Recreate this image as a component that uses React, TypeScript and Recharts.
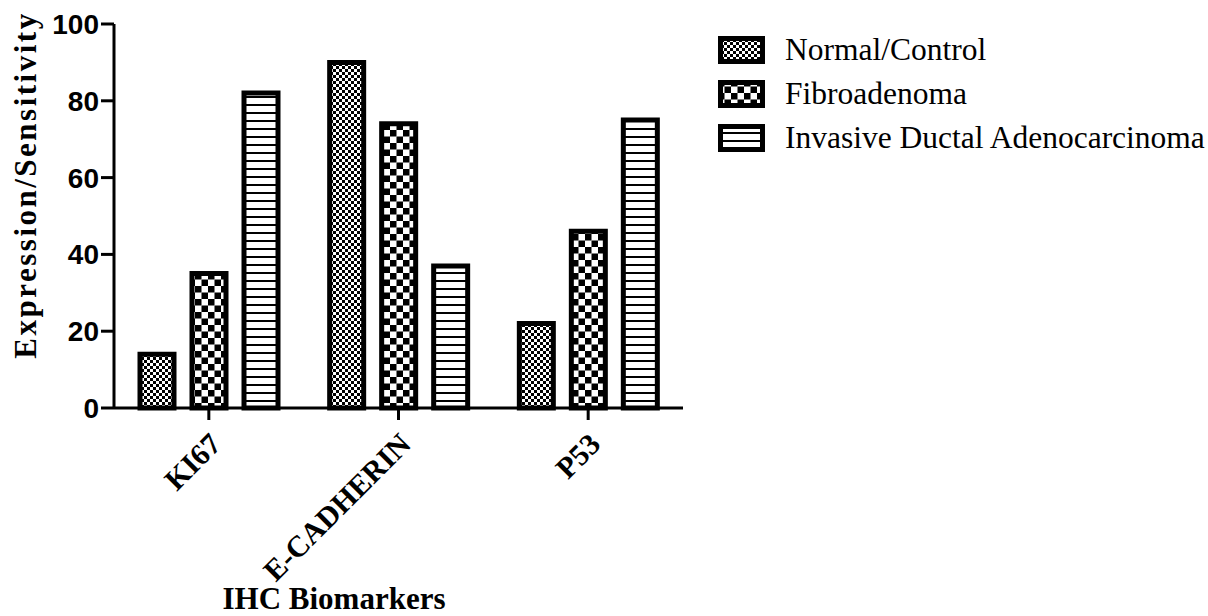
import { BarChart, Bar, XAxis, YAxis } from 'recharts';

const markers = ['KI67', 'E-CADHERIN', 'P53'];
const normalControl = [14, 90, 22];
const fibroadenoma = [35, 74, 46];
const invasiveDuctal = [82, 37, 75];
const yTicks = [0, 20, 40, 60, 80, 100];
const seriesNames = ['Normal/Control', 'Fibroadenoma', 'Invasive Ductal Adenocarcinoma'];
const seriesKeys = ['normal', 'fibro', 'idc'];
const patternIds = ['patNormal', 'patFibro', 'patIdc'];

const data = markers.map((name, i) => ({
    name,
    normal: normalControl[i],
    fibro: fibroadenoma[i],
    idc: invasiveDuctal[i],
}));

const serif = '"Liberation Serif", "Times New Roman", serif';
const sans = '"Liberation Sans", Arial, sans-serif';

function Patterns() {
    return (
        <defs>
            <pattern id="patNormal" patternUnits="userSpaceOnUse" width="6" height="6">
                <rect width="6" height="6" fill="#fff" />
                <rect x="0" y="0" width="3" height="3" fill="#000" />
                <rect x="3" y="3" width="3" height="3" fill="#000" />
            </pattern>
            <pattern id="patFibro" patternUnits="userSpaceOnUse" width="13" height="13">
                <rect width="13" height="13" fill="#fff" />
                <rect x="0" y="0" width="6.5" height="6.5" fill="#000" />
                <rect x="6.5" y="6.5" width="6.5" height="6.5" fill="#000" />
            </pattern>
            <pattern id="patIdc" patternUnits="userSpaceOnUse" width="8" height="8">
                <rect width="8" height="8" fill="#fff" />
                <rect x="0" y="0" width="8" height="2" fill="#000" />
            </pattern>
        </defs>
    );
}

const XTick = ({ x, y, payload }: any) => (
    <text
        x={x + 14}
        y={y + 24}
        transform={`rotate(-45, ${x + 14}, ${y + 24})`}
        textAnchor="end"
        style={{ fontFamily: serif, fontWeight: 'bold', fontSize: 30 }}
        fill="#000"
    >
        {payload.value}
    </text>
);

export default function App() {
    return (
        <div style={{ position: 'absolute', left: 0, top: 0, width: 1208, height: 616, background: '#fff' }}>
            <BarChart
                width={1208}
                height={616}
                data={data}
                margin={{ top: 24, right: 525, left: 0, bottom: 0 }}
                barSize={34}
                barGap={18}
            >
                <Patterns />
                <XAxis
                    dataKey="name"
                    interval={0}
                    height={208}
                    tickSize={12}
                    axisLine={{ stroke: '#000', strokeWidth: 3 }}
                    tickLine={{ stroke: '#000', strokeWidth: 3 }}
                    tick={<XTick />}
                    label={{
                        content: () => (
                            <text
                                x={334}
                                y={609}
                                textAnchor="middle"
                                style={{ fontFamily: serif, fontWeight: 'bold', fontSize: 31 }}
                                fill="#000"
                            >
                                IHC Biomarkers
                            </text>
                        ),
                    }}
                />
                <YAxis
                    width={114}
                    domain={[0, 100]}
                    ticks={yTicks}
                    interval={0}
                    tickSize={13}
                    axisLine={{ stroke: '#000', strokeWidth: 3 }}
                    tickLine={{ stroke: '#000', strokeWidth: 3 }}
                    tick={{ fill: '#000', fontFamily: sans, fontWeight: 'bold', fontSize: 28 }}
                    label={{
                        content: () => (
                            <text
                                x={36}
                                y={185}
                                transform="rotate(-90, 36, 185)"
                                textAnchor="middle"
                                style={{ fontFamily: serif, fontWeight: 'bold', fontSize: 31, letterSpacing: 2.5 }}
                                fill="#000"
                            >
                                Expression/Sensitivity
                            </text>
                        ),
                    }}
                />
                {seriesKeys.map((key, i) => (
                    <Bar
                        key={key}
                        dataKey={key}
                        name={seriesNames[i]}
                        fill={`url(#${patternIds[i]})`}
                        stroke="#000"
                        strokeWidth={5}
                        isAnimationActive={false}
                    />
                ))}
            </BarChart>
            <div style={{ position: 'absolute', left: 718, top: 36, fontFamily: serif, fontSize: 31.5, color: '#000' }}>
                {seriesNames.map((name, i) => (
                    <div key={name} style={{ display: 'flex', alignItems: 'center', height: 28, marginBottom: 16, whiteSpace: 'nowrap' }}>
                        <svg width={47} height={28} style={{ display: 'block', marginRight: 20 }}>
                            <rect x={2.5} y={2.5} width={42} height={23} fill={`url(#${patternIds[i]})`} stroke="#000" strokeWidth={5} />
                        </svg>
                        <span>{name}</span>
                    </div>
                ))}
            </div>
        </div>
    );
}
